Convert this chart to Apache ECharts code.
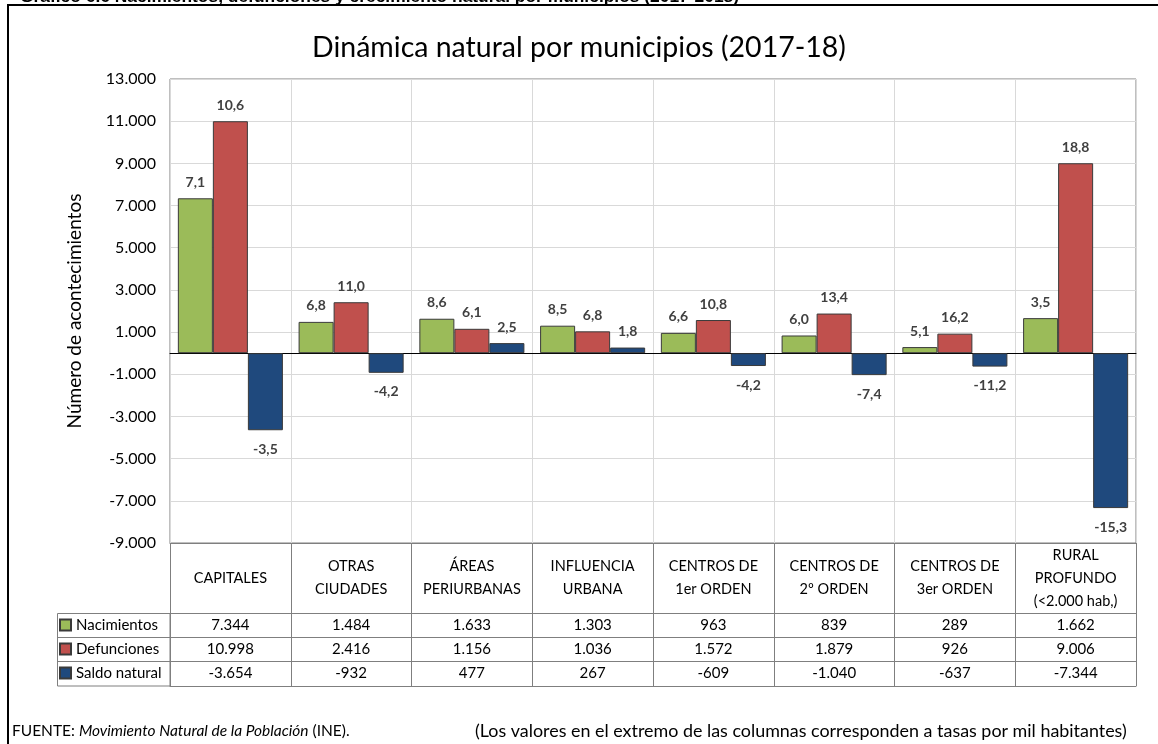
<!DOCTYPE html>
<html>
<head>
<meta charset="utf-8">
<script src="https://cdn.jsdelivr.net/npm/echarts@6/dist/echarts.min.js"></script>
<style>
html,body{margin:0;padding:0;background:#fff;}
#chart{width:1158px;height:744px;}
</style>
</head>
<body>
<div id="chart"></div>
<script>
const categories = ['CAPITALES','OTRAS\nCIUDADES','ÁREAS\nPERIURBANAS','INFLUENCIA\nURBANA','CENTROS DE\n1er ORDEN','CENTROS DE\n2º ORDEN','CENTROS DE\n3er ORDEN','RURAL\nPROFUNDO\n(<2.000 hab,)'];
const seriesNames = ['Nacimientos','Defunciones','Saldo natural'];
const nacimientos = [7344, 1484, 1633, 1303, 963, 839, 289, 1662];
const defunciones = [10998, 2416, 1156, 1036, 1572, 1879, 926, 9006];
const saldo = [-3654, -932, 477, 267, -609, -1040, -637, -7344];
const tasaNac = [7.1, 6.8, 8.6, 8.5, 6.6, 6.0, 5.1, 3.5];
const tasaDef = [10.6, 11.0, 6.1, 6.8, 10.8, 13.4, 16.2, 18.8];
const tasaSaldo = [-3.5, -4.2, 2.5, 1.8, -4.2, -7.4, -11.2, -15.3];
const yMin = -9000, yMax = 13000, yStep = 2000;

const FONT = 'Lato, "Open Sans", sans-serif';
const colors = ['#9BBB59', '#C0504D', '#1F497D'];
const lineCol = '#7f7f7f';

function fmtMiles(n) {
  const s = Math.abs(Math.round(n)).toString().replace(/\B(?=(\d{3})+(?!\d))/g, '.');
  return (n < 0 ? '-' : '') + s;
}
function fmtTasa(t) { return t.toFixed(1).replace('.', ','); }

function buildData(values, tasas) {
  return values.map((v, i) => ({
    value: v,
    label: {
      position: v < 0 ? 'bottom' : 'top',
      distance: v < 0 ? 12 : 9,
      formatter: fmtTasa(tasas[i])
    }
  }));
}

function rowAxis(offset, values, tickLen) {
  return {
    type: 'category', data: categories, gridIndex: 0, position: 'bottom', offset: offset,
    axisLine: { show: true, onZero: false, lineStyle: { color: lineCol, width: 1 } },
    axisTick: { show: true, length: tickLen, lineStyle: { color: lineCol } },
    axisLabel: {
      show: values !== null, interval: 0, margin: 12, verticalAlign: 'middle',
      fontFamily: FONT, fontSize: 15, color: '#000',
      formatter: (v, i) => values ? fmtMiles(values[i]) : ''
    },
    splitLine: { show: false }
  };
}

const chart = echarts.init(document.getElementById('chart'), null, { renderer: 'canvas' });
const option = {
  backgroundColor: '#fff',
  animation: false,
  title: [
    { text: 'Dinámica natural por municipios (2017-18)', left: 'center', top: 33, padding: 0,
      textStyle: { fontFamily: FONT, fontSize: 28.5, fontWeight: 'normal', color: '#000' } },
    { text: '{n|FUENTE: }{i|Movimiento Natural de la Población}{n| (INE).}', left: 12, top: 723, padding: 0,
      textStyle: { fontWeight: 'normal', rich: {
        n: { fontFamily: FONT, fontSize: 15.5, fontWeight: 'normal', color: '#000' },
        i: { fontFamily: FONT, fontSize: 15.5, fontWeight: 'normal', fontStyle: 'italic', color: '#000' } } } },
    { text: '(Los valores en el extremo de las columnas corresponden a tasas por mil habitantes)', left: 475, top: 722, padding: 0,
      textStyle: { fontFamily: FONT, fontSize: 17.9, fontWeight: 'normal', color: '#000' } }
  ],
  legend: {
    data: seriesNames, orient: 'vertical', left: 59, top: 617, padding: 0,
    itemWidth: 11, itemHeight: 11, itemGap: 8, icon: 'rect', selectedMode: false,
    textStyle: { fontFamily: FONT, fontSize: 15, lineHeight: 16, color: '#000' }
  },
  grid: { left: 170, right: 22, top: 79, bottom: 201, show: true, borderColor: lineCol, borderWidth: 1, backgroundColor: 'transparent' },
  xAxis: [
    {
      type: 'category', data: categories, position: 'bottom',
      axisLine: { show: true, onZero: false, lineStyle: { color: lineCol } },
      axisTick: { show: true, length: 70, lineStyle: { color: lineCol } },
      axisLabel: { interval: 0, margin: 35, verticalAlign: 'middle', fontFamily: FONT, fontSize: 14.5, lineHeight: 23, color: '#000' },
      splitLine: { show: true, lineStyle: { color: '#d9d9d9' } }
    },
    rowAxis(70, nacimientos, 24),
    rowAxis(94, defunciones, 24),
    rowAxis(118, saldo, 25),
    rowAxis(143, null, 0),
    {
      type: 'category', data: categories, position: 'bottom',
      axisLine: { show: true, onZero: true, lineStyle: { color: '#000', width: 1 } },
      axisTick: { show: false }, axisLabel: { show: false }, splitLine: { show: false }
    }
  ],
  yAxis: {
    type: 'value', min: yMin, max: yMax, interval: yStep,
    name: 'Número de acontecimientos', nameLocation: 'middle', nameGap: 86, nameRotate: 90,
    nameTextStyle: { fontFamily: FONT, fontSize: 19, color: '#000' },
    axisLine: { show: false }, axisTick: { show: false },
    axisLabel: { fontFamily: FONT, fontSize: 16, color: '#000', margin: 14, formatter: v => fmtMiles(v) },
    splitLine: { show: true, lineStyle: { color: '#d9d9d9' } }
  },
  series: [
    { name: seriesNames[0], type: 'bar', data: buildData(nacimientos, tasaNac) },
    { name: seriesNames[1], type: 'bar', data: buildData(defunciones, tasaDef) },
    { name: seriesNames[2], type: 'bar', data: buildData(saldo, tasaSaldo) }
  ].map((s, k) => Object.assign(s, {
    xAxisIndex: 0, yAxisIndex: 0, barGap: '0%', barCategoryGap: '13%',
    itemStyle: { color: colors[k], borderColor: '#3a3a3a', borderWidth: 1 },
    label: { show: true, fontFamily: FONT, fontSize: 14, fontWeight: 'bold', color: '#404040' },
    emphasis: { disabled: true }
  })),
  graphic: [
    { type: 'line', shape: { x1: 7, y1: 5, x2: 1158, y2: 5 }, style: { stroke: '#000', lineWidth: 2 } },
    { type: 'line', shape: { x1: 8, y1: 4, x2: 8, y2: 744 }, style: { stroke: '#000', lineWidth: 2 } },
    { type: 'text', left: 20, top: -11, z: 10, style: { text: 'Gráfico 6.6 Nacimientos, defunciones y crecimiento natural por municipios (2017-2018)', font: 'bold 17.4px "Liberation Sans", Arial, sans-serif', fill: '#000' } },
    { type: 'rect', shape: { x: 57.5, y: 613.5, width: 112.5, height: 72.5 }, style: { fill: 'none', stroke: lineCol, lineWidth: 1 } },
    { type: 'line', shape: { x1: 57.5, y1: 637.5, x2: 170, y2: 637.5 }, style: { stroke: lineCol, lineWidth: 1 } },
    { type: 'line', shape: { x1: 57.5, y1: 661.5, x2: 170, y2: 661.5 }, style: { stroke: lineCol, lineWidth: 1 } }
  ]
};
chart.setOption(option);
</script>
</body>
</html>
